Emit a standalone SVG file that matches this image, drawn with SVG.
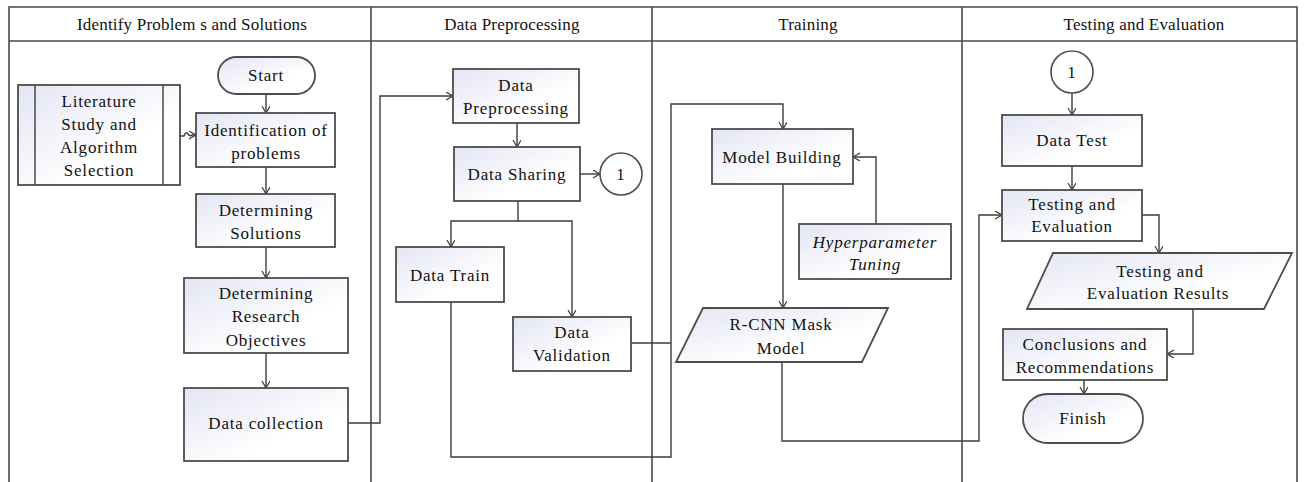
<svg xmlns="http://www.w3.org/2000/svg" width="1305" height="482" viewBox="0 0 1305 482">
<style>
.lane{fill:none;stroke:#4a4a4a;stroke-width:1.6}
.hd{font-family:"Liberation Serif","Times New Roman",serif;font-size:17px;fill:#111;text-anchor:middle;dominant-baseline:central;letter-spacing:0.2px}
.box{fill:url(#g);stroke:#4d4d4d;stroke-width:1.8}
.t{font-family:"Liberation Serif","Times New Roman",serif;font-size:17px;fill:#111;text-anchor:middle;dominant-baseline:central;letter-spacing:0.8px}
.it{font-style:italic}
.c{fill:none;stroke:#3d3d3d;stroke-width:1.4;marker-end:url(#a)}
.cn{fill:none;stroke:#3d3d3d;stroke-width:1.4}
</style>
<defs>
<linearGradient id="g" x1="0" y1="0" x2="1" y2="1">
<stop offset="0" stop-color="#e3e5f4"/>
<stop offset="0.65" stop-color="#ffffff"/>
<stop offset="1" stop-color="#ffffff"/>
</linearGradient>
<marker id="a" markerWidth="10" markerHeight="10" refX="7" refY="4" orient="auto" markerUnits="userSpaceOnUse">
<path d="M0,0 L7,4 L0,8" fill="none" stroke="#3d3d3d" stroke-width="1.2"/>
</marker>
</defs>
<rect width="1305" height="482" fill="#ffffff"/>
<g id="lanes">
<path class="lane" d="M9,482 V7 H1297 V482 M9,41 H1297 M371,7 V482 M652,7 V482 M962,7 V482"/>
<text class="hd" x="192" y="24">Identify Problem s and Solutions</text>
<text class="hd" x="512" y="24">Data Preprocessing</text>
<text class="hd" x="808" y="24">Training</text>
<text class="hd" x="1144" y="24">Testing and Evaluation</text>
</g>
<g id="connectors">
<path class="c" d="M266,94 V113"/>
<path class="c" d="M180,136 H184 Q186,131 188,134 T192,135 H196"/>
<path class="c" d="M266,167 V194"/>
<path class="c" d="M266,247 V278"/>
<path class="c" d="M266,353 V388"/>
<path class="c" d="M348,423 H380 V96 H453"/>
<path class="c" d="M517,123 V147"/>
<path class="c" d="M580,174 H600"/>
<path class="c" d="M518,201 V221 H451 V247"/>
<path class="c" d="M518,221 H572 V317"/>
<path class="c" d="M451,302 V457 H671 V104 H783 V129"/>
<path class="cn" d="M631,343 H671"/>
<path class="c" d="M876,224 V157 H853"/>
<path class="c" d="M783,184 V308"/>
<path class="c" d="M782,362 V441 H979 V215 H1002"/>
<path class="c" d="M1072,93 V115"/>
<path class="c" d="M1072,166 V190"/>
<path class="c" d="M1142,215 H1159 V253"/>
<path class="c" d="M1193,309 V354 H1167"/>
<path class="c" d="M1084,380 V394"/>
</g>
<g id="start">
<rect class="box" x="218" y="57" width="97" height="37" rx="18.5"/>
<text class="t" x="266" y="75">Start</text>
</g>
<g id="literature">
<rect class="box" x="18" y="85" width="162" height="100"/>
<path class="cn" d="M35,85 V185 M163,85 V185"/>
<text class="t" x="99" y="101">Literature</text>
<text class="t" x="99" y="124">Study and</text>
<text class="t" x="99" y="147">Algorithm</text>
<text class="t" x="99" y="170">Selection</text>
</g>
<g id="identification">
<rect class="box" x="196" y="113" width="139" height="54"/>
<text class="t" x="266" y="130">Identification of</text>
<text class="t" x="266" y="153">problems</text>
</g>
<g id="solutions">
<rect class="box" x="196" y="194" width="139" height="53"/>
<text class="t" x="266" y="210">Determining</text>
<text class="t" x="266" y="233">Solutions</text>
</g>
<g id="objectives">
<rect class="box" x="184" y="278" width="164" height="75"/>
<text class="t" x="266" y="293">Determining</text>
<text class="t" x="266" y="316">Research</text>
<text class="t" x="266" y="340">Objectives</text>
</g>
<g id="collection">
<rect class="box" x="184" y="388" width="164" height="73"/>
<text class="t" x="266" y="423">Data collection</text>
</g>
<g id="preprocessing">
<rect class="box" x="453" y="69" width="126" height="54"/>
<text class="t" x="516" y="85">Data</text>
<text class="t" x="516" y="108">Preprocessing</text>
</g>
<g id="sharing">
<rect class="box" x="454" y="147" width="126" height="54"/>
<text class="t" x="517" y="174">Data Sharing</text>
</g>
<g id="connector1a">
<circle cx="621" cy="174" r="21" fill="#ffffff" stroke="#4d4d4d" stroke-width="1.6"/>
<text class="t" x="621" y="174">1</text>
</g>
<g id="train">
<rect class="box" x="396" y="247" width="108" height="55"/>
<text class="t" x="450" y="275">Data Train</text>
</g>
<g id="validation">
<rect class="box" x="513" y="317" width="118" height="54"/>
<text class="t" x="572" y="332">Data</text>
<text class="t" x="572" y="355">Validation</text>
</g>
<g id="model">
<rect class="box" x="712" y="129" width="141" height="55"/>
<text class="t" x="782" y="157">Model Building</text>
</g>
<g id="hyper">
<rect class="box" x="799" y="224" width="152" height="55"/>
<text class="t it" x="875" y="242">Hyperparameter</text>
<text class="t it" x="875" y="264">Tuning</text>
</g>
<g id="rcnn">
<polygon class="box" points="703,308 888,308 862,362 676,362"/>
<text class="t" x="781" y="324">R-CNN Mask</text>
<text class="t" x="781" y="348">Model</text>
</g>
<g id="connector1b">
<circle cx="1072" cy="72" r="21" fill="#ffffff" stroke="#4d4d4d" stroke-width="1.6"/>
<text class="t" x="1072" y="72">1</text>
</g>
<g id="datatest">
<rect class="box" x="1002" y="115" width="140" height="51"/>
<text class="t" x="1072" y="140">Data Test</text>
</g>
<g id="testeval">
<rect class="box" x="1002" y="190" width="140" height="51"/>
<text class="t" x="1072" y="204">Testing and</text>
<text class="t" x="1072" y="226">Evaluation</text>
</g>
<g id="results">
<polygon class="box" points="1053,253 1292,253 1264,309 1027,309"/>
<text class="t" x="1160" y="271">Testing and</text>
<text class="t" x="1158" y="293">Evaluation Results</text>
</g>
<g id="conclusions">
<rect class="box" x="1003" y="329" width="164" height="51"/>
<text class="t" x="1085" y="344">Conclusions and</text>
<text class="t" x="1085" y="367">Recommendations</text>
</g>
<g id="finish">
<rect class="box" x="1023" y="394" width="120" height="49" rx="24.5"/>
<text class="t" x="1083" y="418">Finish</text>
</g>
</svg>
